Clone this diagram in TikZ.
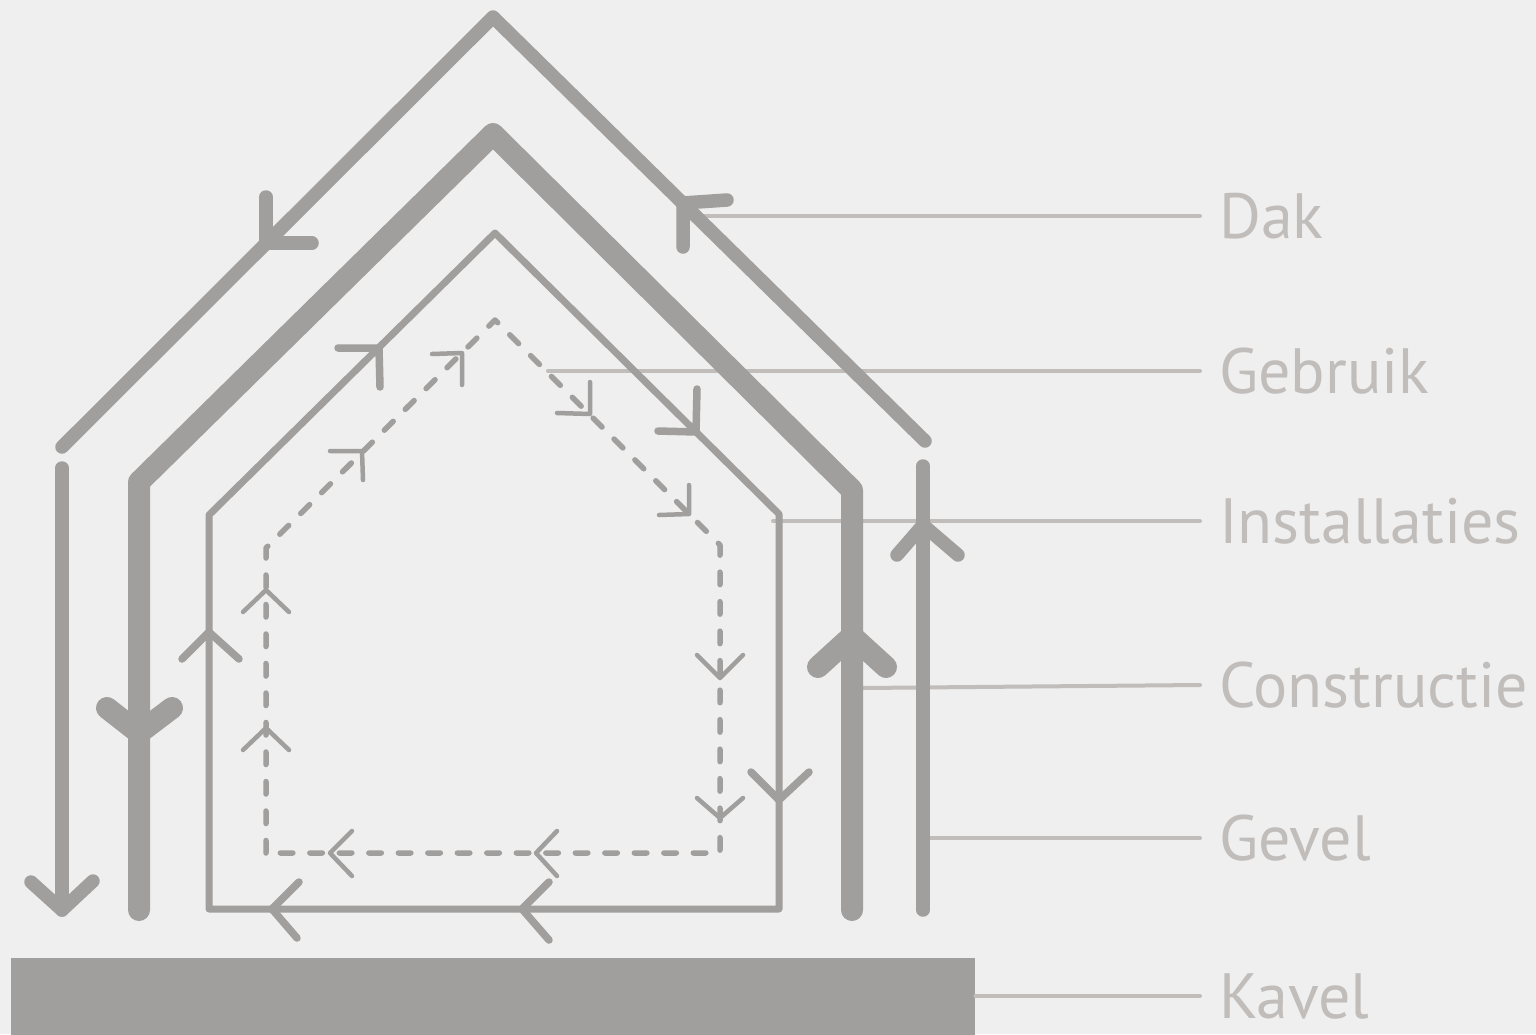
\documentclass[tikz,border=0pt]{standalone}
\usepackage{fontspec}
\setmainfont{PT Sans}
\definecolor{lijngrijs}{RGB}{160,159,157}
\definecolor{labelgrijs}{RGB}{192,189,187}
\definecolor{achtergrond}{RGB}{239,239,239}
\tikzset{
  laag/.style={draw=lijngrijs, line cap=round, line join=round},
  dak/.style={laag, line width=13.5pt},
  constructie/.style={laag, line width=22pt},
  installaties/.style={laag, line width=7pt},
  installatiepijl/.style={laag, line width=7.5pt},
  gebruik/.style={laag, line width=5.5pt, dash pattern=on 12.5pt off 17pt},
  gebruikpijl/.style={laag, line width=4.5pt},
  leader/.style={draw=labelgrijs, line width=4pt, line cap=round},
  labeltekst/.style={anchor=west, text=labelgrijs, inner xsep=19pt, inner ysep=0pt,
    text height=45pt, text depth=0pt, font=\fontsize{64}{64}\selectfont},
}
\begin{document}
\begin{tikzpicture}[x=1pt, y=-1pt]
    % Achtergrond
    \fill[achtergrond] (0,0) rectangle (1536,1034);
    \useasboundingbox (0,0) rectangle (1536,1034);

    % Labels
    \node[labeltekst] (dak) at (1200,216) {Dak};
    \node[labeltekst] (gebruik) at (1200,371) {Gebruik};
    \node[labeltekst] (installaties) at (1200,521) {Installaties};
    \node[labeltekst] (constructie) at (1200,685) {Constructie};
    \node[labeltekst] (gevel) at (1200,838) {Gevel};
    \node[labeltekst] (kavellabel) at (1200,996) {Kavel};

    % Kavel
    \node[fill=lijngrijs, inner sep=0pt, anchor=north west,
      minimum width=964pt, minimum height=80pt] (kavel) at (11,958) {};

    % Verwijslijnen (achter de lagen)
    \coordinate (p-dak) at (700,216);
    \coordinate (p-gebruik) at (548,371);
    \coordinate (p-installaties) at (773,521);
    \coordinate (p-constructie) at (862,688);
    \coordinate (p-gevel) at (930,838);
    \draw[leader] (p-dak) -- (dak.west);
    \draw[leader] (p-gebruik) -- (gebruik.west);
    \draw[leader] (p-installaties) -- (installaties.west);
    \draw[leader] (p-constructie) -- (constructie.west);
    \draw[leader] (p-gevel) -- (gevel.west);
    \draw[leader] (kavel.east |- kavellabel.west) -- (kavellabel.west);

    % Dak en gevel
    \draw[dak] (62,447) -- (493,17) -- (925,441);
    \draw[dak] (266,197) -- (266,243) -- (312,243);
    \draw[dak] (683,247) -- (683,203) -- (727,200);
    \draw[dak] (62,468) -- (62,910);
    \draw[dak] (31,882) -- (62,910) -- (93,881);
    \draw[dak] (923,466) -- (923,910);
    \draw[dak] (897,555) -- (923,525) -- (958,555);

    % Constructie
    \draw[constructie] (139,910) -- (139,482) -- (493,134) -- (852,490) -- (852,910);
    \draw[constructie] (107,708) -- (139,733) -- (172,708);
    \draw[constructie] (818,667) -- (852,636) -- (886,667);

    % Installaties
    \draw[installaties] (209,515) -- (495,233) -- (779,514) -- (779,909) -- (209,909) -- cycle;
    \draw[installatiepijl] (338,348) -- (379,348) -- (380,387);
    \draw[installatiepijl] (697,389) -- (696,432) -- (658,431);
    \draw[installatiepijl] (182,659) -- (209,632) -- (239,659);
    \draw[installatiepijl] (751,772) -- (779,800) -- (809,772);
    \draw[installatiepijl] (299,882) -- (272,909) -- (297,938);
    \draw[installatiepijl] (549,882) -- (522,909) -- (549,940);

    % Gebruik
    \draw[gebruik] (266,853) -- (266,548) -- (495,320) -- (720,545) -- (720,853) -- cycle;
    \draw[gebruikpijl] (330,451) -- (362,451) -- (363,480);
    \draw[gebruikpijl] (432,354) -- (462,353) -- (462,385);
    \draw[gebruikpijl] (590,382) -- (590,414) -- (557,413);
    \draw[gebruikpijl] (689,485) -- (689,514) -- (659,515);
    \draw[gebruikpijl] (243,612) -- (266,590) -- (289,612);
    \draw[gebruikpijl] (243,750) -- (266,728) -- (289,750);
    \draw[gebruikpijl] (697,655) -- (720,678) -- (743,655);
    \draw[gebruikpijl] (697,798) -- (720,818) -- (743,798);
    \draw[gebruikpijl] (352,831) -- (330,853) -- (352,876);
    \draw[gebruikpijl] (557,831) -- (536,853) -- (557,876);
\end{tikzpicture}
\end{document}
